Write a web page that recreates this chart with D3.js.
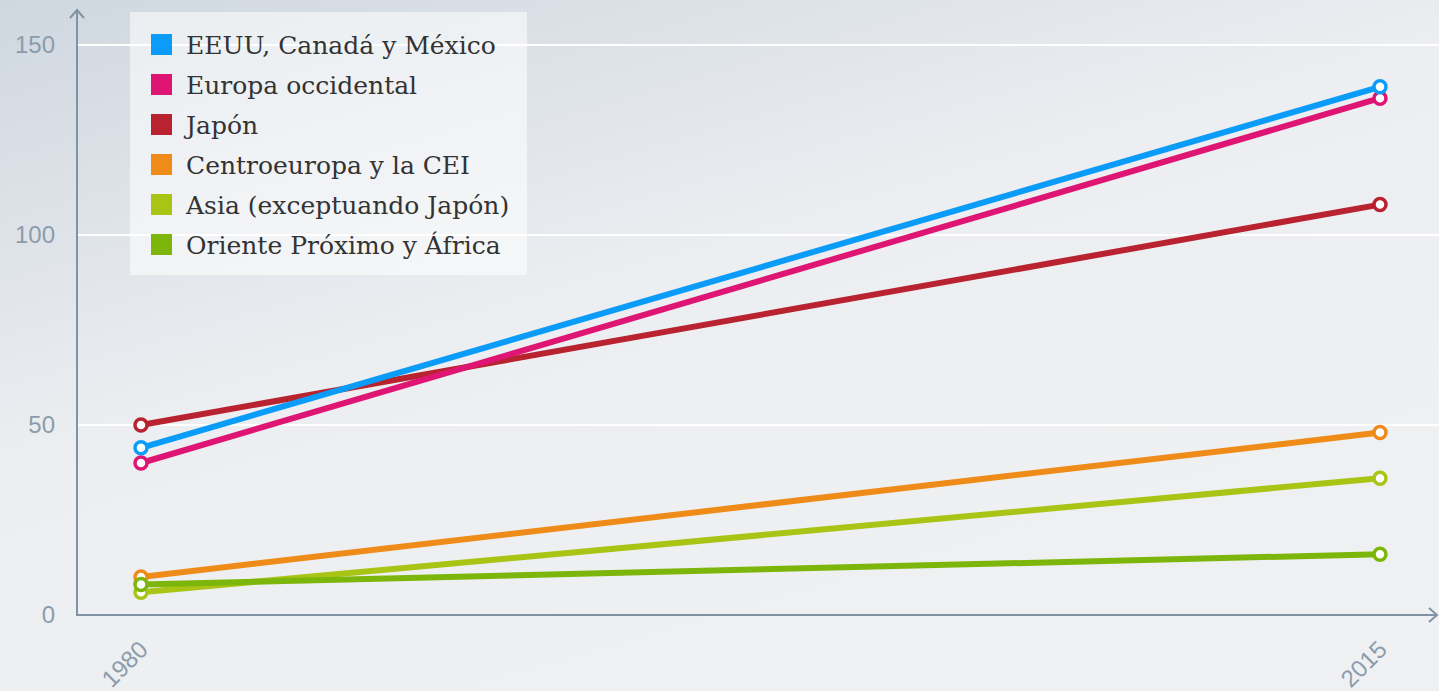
<!DOCTYPE html>
<meta charset="utf-8">
<script src="https://d3js.org/d3.v7.min.js"></script>
<style>
  body { margin: 0; overflow: hidden; }
  .tick text { font-family: "Liberation Sans", Arial, sans-serif; }
</style>
<body>
<div id="chart"></div>
<script>
// data
var years = ["1980", "2015"];
var regions = ["EEUU, Canadá y México", "Europa occidental", "Japón",
               "Centroeuropa y la CEI", "Asia (exceptuando Japón)", "Oriente Próximo y África"];
var colors = ["#0a9cf8", "#de1572", "#b8232f", "#ef8c19", "#a9c414", "#7cb60a"];
var v1980 = [44, 40, 50, 10, 6, 8];
var v2015 = [139, 136, 108, 48, 36, 16];
var yTicks = [0, 50, 100, 150];

var W = 1439, H = 691;
var margin = {top: 45, right: 59, bottom: 76, left: 77};

var svg = d3.select("#chart").append("svg")
    .attr("width", W).attr("height", H);

var defs = svg.append("defs");
var grad = defs.append("linearGradient").attr("id", "bg")
    .attr("x1", "0").attr("y1", "0").attr("x2", "0.55").attr("y2", "0.9");
grad.append("stop").attr("offset", "0").attr("stop-color", "#cfd7df");
grad.append("stop").attr("offset", "0.55").attr("stop-color", "#eceef1");
grad.append("stop").attr("offset", "1").attr("stop-color", "#eff0f2");
svg.append("rect").attr("width", W).attr("height", H).attr("fill", "url(#bg)");

var x = d3.scalePoint().domain(years).range([141, 1380]);
var y = d3.scaleLinear().domain([0, 150]).range([615, 45]);

// gridlines
svg.append("g").selectAll("line").data(yTicks.filter(function(d){ return d > 0; }))
  .enter().append("line")
    .attr("x1", margin.left).attr("x2", W)
    .attr("y1", function(d){ return y(d); }).attr("y2", function(d){ return y(d); })
    .attr("stroke", "#fff").attr("stroke-width", 2);

// y axis
var yAxis = svg.append("g").attr("transform", "translate(" + margin.left + ",0)")
    .call(d3.axisLeft(y).tickValues(yTicks).tickSize(0).tickPadding(22));
yAxis.select(".domain").remove();
yAxis.selectAll("text").attr("fill", "#8b9cac").style("font-size", "24px");

// x axis
var xAxis = svg.append("g").attr("transform", "translate(0,615)")
    .call(d3.axisBottom(x).tickSize(0).tickPadding(0));
xAxis.select(".domain").remove();
xAxis.selectAll("text")
    .attr("fill", "#8b9cac").style("font-size", "24px")
    .attr("text-anchor", "end")
    .attr("dy", "0")
    .attr("transform", "translate(8,36) rotate(-45)");

// axis lines with arrows
var axisColor = "#7f93a5";
svg.append("line").attr("x1", 77).attr("x2", 77).attr("y1", 10).attr("y2", 616)
    .attr("stroke", axisColor).attr("stroke-width", 2);
svg.append("line").attr("x1", 76).attr("x2", 1436).attr("y1", 615).attr("y2", 615)
    .attr("stroke", axisColor).attr("stroke-width", 2);
svg.append("path").attr("d", "M70,18 L77,10 L84,18").attr("fill", "none")
    .attr("stroke", axisColor).attr("stroke-width", 2);
svg.append("path").attr("d", "M1429,608 L1437,615 L1429,622").attr("fill", "none")
    .attr("stroke", axisColor).attr("stroke-width", 2);

// lines
var series = regions.map(function(r, i) {
  return {name: r, color: colors[i], values: [v1980[i], v2015[i]]};
});
var line = d3.line()
    .x(function(d, i){ return x(years[i]); })
    .y(function(d){ return y(d); });

var order = [3, 4, 5, 2, 1, 0];
order.forEach(function(i) {
  var s = series[i];
  svg.append("path").attr("d", line(s.values))
      .attr("fill", "none").attr("stroke", s.color).attr("stroke-width", 6);
});
order.forEach(function(i) {
  var s = series[i];
  svg.append("g").selectAll("circle").data(s.values).enter().append("circle")
      .attr("cx", function(d, j){ return x(years[j]); })
      .attr("cy", function(d){ return y(d); })
      .attr("r", 6)
      .attr("fill", "#fff").attr("stroke", s.color).attr("stroke-width", 3.5);
});

// legend
var leg = svg.append("g");
leg.append("rect").attr("x", 130).attr("y", 12).attr("width", 397).attr("height", 263)
    .attr("fill", "#fff").attr("fill-opacity", 0.55);
var item = leg.selectAll(".item").data(series).enter().append("g")
    .attr("transform", function(d, i){ return "translate(151," + (45 + i * 40) + ")"; });
item.append("rect").attr("x", 0).attr("y", -11).attr("width", 21).attr("height", 21)
    .attr("fill", function(d){ return d.color; });
item.append("text").attr("x", 35).attr("y", 0).attr("dy", "0.35em")
    .attr("fill", "#333").style("font-family", "'DejaVu Serif', Georgia, serif")
    .style("font-size", "25px")
    .text(function(d){ return d.name; });
</script>
</body>
